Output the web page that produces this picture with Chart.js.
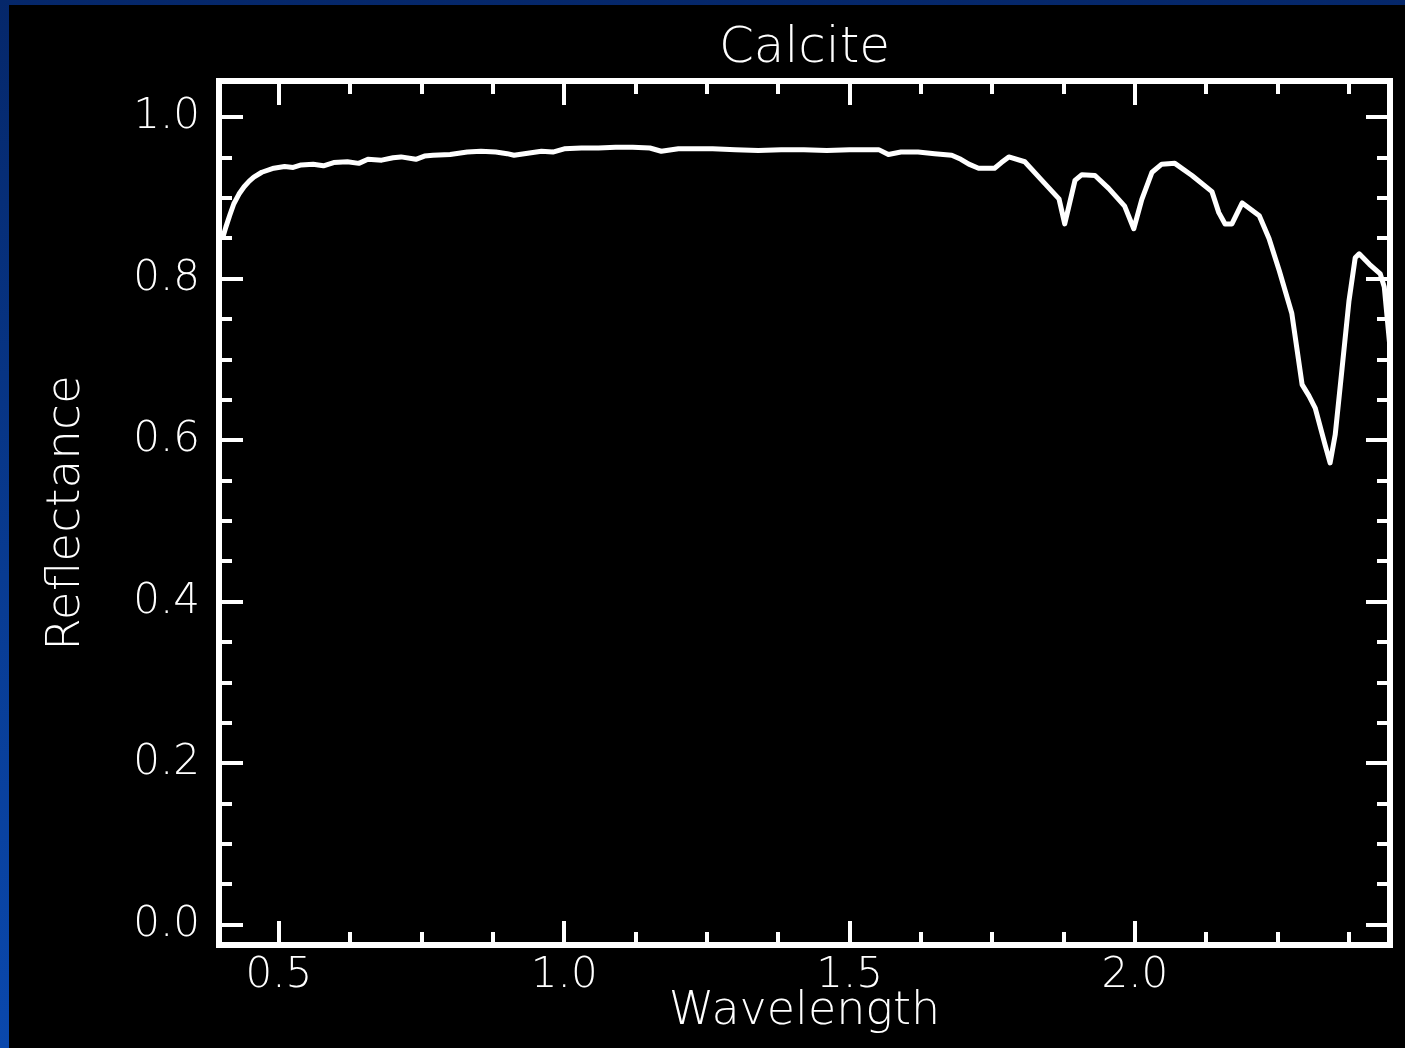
<!DOCTYPE html>
<html>
<head>
<meta charset="utf-8">
<script src="https://cdn.jsdelivr.net/npm/chart.js@4/dist/chart.umd.min.js"></script>
<style>
  html, body { margin: 0; padding: 0; }
  body {
    width: 1405px; height: 1048px; overflow: hidden;
    background: linear-gradient(180deg, #05276a 0%, #083b92 55%, #0a48ad 100%);
    position: relative;
  }
  #myChart { position: absolute; left: 9px; top: 5px; background: #000; }
</style>
</head>
<body>
<canvas id="myChart" width="1396" height="1043"></canvas>
<script>
// wavelength (micrometres) and reflectance
const wavelength = [
  0.402, 0.407, 0.414, 0.421, 0.430, 0.439, 0.448, 0.456, 0.470, 0.491,
  0.510, 0.525, 0.539, 0.560, 0.578, 0.596, 0.620, 0.640, 0.656, 0.680,
  0.700, 0.714, 0.740, 0.755, 0.770, 0.800, 0.830, 0.854, 0.880, 0.900,
  0.912, 0.930, 0.960, 0.980, 1.000, 1.030, 1.060, 1.090, 1.120, 1.150,
  1.170, 1.200, 1.230, 1.260, 1.300, 1.340, 1.380, 1.420, 1.460, 1.500,
  1.530, 1.551, 1.568, 1.590, 1.620, 1.649, 1.679, 1.695, 1.709, 1.726,
  1.740, 1.754, 1.766, 1.779, 1.807, 1.837, 1.867, 1.877, 1.886, 1.895,
  1.907, 1.930, 1.954, 1.982, 1.998, 2.012, 2.030, 2.047, 2.070, 2.100,
  2.135, 2.147, 2.158, 2.170, 2.188, 2.218, 2.235, 2.253, 2.275, 2.293,
  2.305, 2.316, 2.333, 2.342, 2.351, 2.363, 2.375, 2.386, 2.393, 2.411,
  2.430, 2.437, 2.442, 2.446
];
const reflectance = [
  0.852, 0.864, 0.879, 0.893, 0.905, 0.914, 0.921, 0.926, 0.932, 0.937,
  0.939, 0.938, 0.941, 0.942, 0.940, 0.944, 0.945, 0.943, 0.948, 0.947,
  0.950, 0.951, 0.948, 0.952, 0.953, 0.954, 0.957, 0.958, 0.957, 0.955,
  0.953, 0.955, 0.958, 0.957, 0.961, 0.962, 0.962, 0.963, 0.963, 0.962,
  0.958, 0.961, 0.961, 0.961, 0.960, 0.959, 0.960, 0.960, 0.959, 0.960,
  0.960, 0.960, 0.954, 0.957, 0.957, 0.955, 0.953, 0.948, 0.942, 0.937,
  0.937, 0.937, 0.944, 0.951, 0.945, 0.922, 0.899, 0.868, 0.895, 0.922,
  0.929, 0.928, 0.912, 0.890, 0.862, 0.898, 0.932, 0.942, 0.943, 0.928,
  0.908, 0.882, 0.868, 0.868, 0.894, 0.878, 0.850, 0.810, 0.757, 0.669,
  0.655, 0.640, 0.595, 0.572, 0.607, 0.689, 0.772, 0.826, 0.831, 0.818,
  0.806, 0.790, 0.752, 0.722
];

const xTicks = [0.5, 1.0, 1.5, 2.0];
const xMinorTicks = [0.625, 0.75, 0.875, 1.125, 1.25, 1.375, 1.625, 1.75, 1.875, 2.125, 2.25, 2.375];
const yTicks = [0.0, 0.2, 0.4, 0.6, 0.8, 1.0];
const yMinorTicks = [0.05, 0.1, 0.15, 0.25, 0.3, 0.35, 0.45, 0.5, 0.55, 0.65, 0.7, 0.75, 0.85, 0.9, 0.95];

const fontFamily = "'DejaVu Sans', 'Liberation Sans', sans-serif";

// IDL style box with inward ticks on all four sides
const frameTicks = {
    id: 'frameTicks',
    afterDraw(chart) {
        const ctx = chart.ctx;
        const a = chart.chartArea;
        const xs = chart.scales.x, ys = chart.scales.y;
        ctx.save();
        ctx.strokeStyle = '#fff';
        ctx.lineWidth = 6;
        ctx.strokeRect(a.left, a.top, a.right - a.left, a.bottom - a.top);
        ctx.lineWidth = 4;
        const tick = (len) => (v) => {
            const px = Math.round(xs.getPixelForValue(v));
            ctx.beginPath();
            ctx.moveTo(px, a.bottom); ctx.lineTo(px, a.bottom - len);
            ctx.moveTo(px, a.top); ctx.lineTo(px, a.top + len);
            ctx.stroke();
        };
        const ytick = (len) => (v) => {
            const py = Math.round(ys.getPixelForValue(v));
            ctx.beginPath();
            ctx.moveTo(a.left, py); ctx.lineTo(a.left + len, py);
            ctx.moveTo(a.right, py); ctx.lineTo(a.right - len, py);
            ctx.stroke();
        };
        xTicks.forEach(tick(24));
        xMinorTicks.forEach(tick(13));
        yTicks.forEach(ytick(24));
        yMinorTicks.forEach(ytick(13));
        ctx.restore();
    }
};

const data = {
    datasets: [{
        label: 'Calcite',
        data: wavelength.map((w, i) => ({x: w, y: reflectance[i]})),
        borderColor: '#ffffff',
        borderWidth: 5,
        borderJoinStyle: 'round',
        borderCapStyle: 'round',
        pointRadius: 0,
        tension: 0,
        fill: false
    }]
};

const config = {
    type: 'line',
    data: data,
    options: {
        responsive: false,
        animation: false,
        devicePixelRatio: 1,
        layout: { padding: { left: 0, right: 15, top: 0, bottom: 0 } },
        plugins: {
            legend: { display: false },
            tooltip: { enabled: false },
            title: {
                display: true,
                text: 'Calcite',
                color: '#fff',
                fullSize: false,
                font: { family: fontFamily, size: 50, weight: '200', lineHeight: 1.2 },
                padding: { top: 14, bottom: 2 }
            }
        },
        scales: {
            x: {
                type: 'linear',
                min: 0.395,
                max: 2.447,
                afterBuildTicks: (s) => { s.ticks = xTicks.map(v => ({value: v})); },
                afterFit: (s) => { s.height = 103; },
                grid: { display: false, drawTicks: false },
                border: { display: false },
                ticks: {
                    color: '#fff',
                    padding: 6,
                    maxRotation: 0,
                    font: { family: fontFamily, size: 42, weight: '200' },
                    callback: (v) => v.toFixed(1)
                },
                title: {
                    display: true,
                    text: 'Wavelength',
                    color: '#fff',
                    font: { family: fontFamily, size: 46, weight: '200', lineHeight: 1.2 },
                    padding: { top: 0, bottom: 8 }
                }
            },
            y: {
                min: -0.025,
                max: 1.045,
                afterBuildTicks: (s) => { s.ticks = yTicks.map(v => ({value: v})); },
                afterFit: (s) => { s.width = 210; },
                grid: { display: false, drawTicks: false },
                border: { display: false },
                ticks: {
                    color: '#fff',
                    padding: 19,
                    font: { family: fontFamily, size: 42, weight: '200' },
                    callback: (v) => v.toFixed(1)
                },
                title: {
                    display: true,
                    text: 'Reflectance',
                    color: '#fff',
                    font: { family: fontFamily, size: 47, weight: '200', lineHeight: 1.2 },
                    padding: { top: 30, bottom: 0 }
                }
            }
        }
    },
    plugins: [frameTicks]
};

const myChart = new Chart(document.getElementById('myChart'), config);
</script>
</body>
</html>
